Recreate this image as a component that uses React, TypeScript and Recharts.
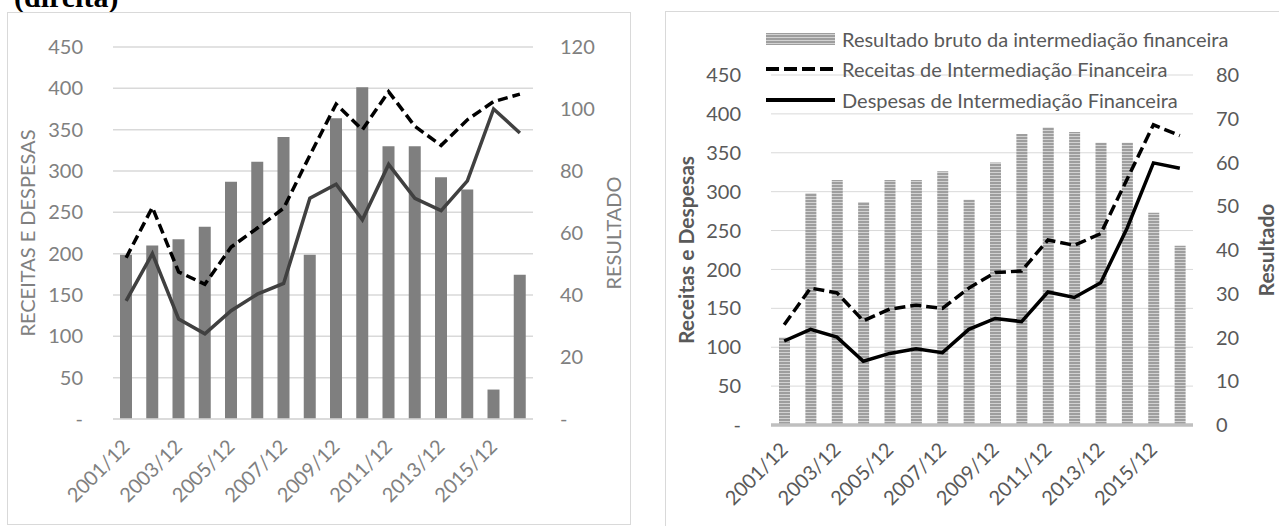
import React from 'react';
import {
  ComposedChart,
  Bar,
  Line,
  XAxis,
  YAxis,
  CartesianGrid,
  Legend
} from 'recharts';

const periods = [
  '2001/12', '2002/12', '2003/12', '2004/12', '2005/12', '2006/12', '2007/12', '2008/12',
  '2009/12', '2010/12', '2011/12', '2012/12', '2013/12', '2014/12', '2015/12', '2016/12'
];

// painel da esquerda
const resultadoEsq = [53, 56, 58, 62, 76.5, 83, 91, 53, 97, 107, 88, 88, 78, 74, 9.5, 46.5];
const receitasEsq = [195, 256, 178, 163, 208, 231, 255, 319, 381, 350, 396, 354, 331, 362, 384, 393];
const despesasEsq = [143, 200, 121, 103, 131, 151, 164, 267, 284, 241, 308, 267, 252, 288, 375, 346];

// painel da direita
const resultadoDir = [20, 53, 56, 51, 56, 56, 58, 51.5, 60, 66.5, 68, 67, 64.5, 64.5, 48.5, 41];
const receitasDir = [129, 176, 170, 134, 149, 154, 150, 176, 196, 198, 238, 231, 246, 316, 386, 372];
const despesasDir = [108, 123, 113, 82, 92, 98, 93, 123, 137, 133, 171, 164, 183, 253, 337, 330];

const valorTicks = [0, 50, 100, 150, 200, 250, 300, 350, 400, 450];
const resultadoTicksEsq = [0, 20, 40, 60, 80, 100, 120];
const resultadoTicksDir = [0, 10, 20, 30, 40, 50, 60, 70, 80];

const FONT = 'Lato, "Open Sans", sans-serif';
const TICK_SIZE = 20;

const leftRows = periods.map((period, i) => ({
  period,
  resultado: resultadoEsq[i],
  receitas: receitasEsq[i],
  despesas: despesasEsq[i]
}));

const rightRows = periods.map((period, i) => ({
  period,
  resultado: resultadoDir[i],
  receitas: receitasDir[i],
  despesas: despesasDir[i]
}));

const AngledTick = ({ x, y, payload, tone }: any) => (
  <text
    x={x}
    y={y}
    transform={`rotate(-45 ${x} ${y})`}
    textAnchor="end"
    dy="0.35em"
    fill={tone}
    fontSize={TICK_SIZE}
    fontFamily={FONT}
  >
    {payload.value}
  </text>
);

// título vertical dos eixos, posição fixa dentro do svg do gráfico
const AxisTitle = ({ px, py, caption, tone, heavy }: any) => (
  <text
    x={px}
    y={py}
    transform={`rotate(-90 ${px} ${py})`}
    textAnchor="middle"
    dominantBaseline="central"
    fill={tone}
    fontSize={heavy ? 21 : 20}
    fontWeight={heavy ? 700 : 400}
    fontFamily={FONT}
  >
    {caption}
  </text>
);

const dashFmt = (v: number) => (v === 0 ? '-' : String(v));

const StripeSwatch = () => (
  <svg width={69} height={14}>
    <defs>
      <pattern id="faixasLegenda" width="4" height="3" patternUnits="userSpaceOnUse">
        <rect width="4" height="3" fill="#9e9e9e" />
        <rect y="2" width="4" height="1" fill="#d2d2d2" />
      </pattern>
    </defs>
    <rect x={0} y={1} width={69} height={12} fill="url(#faixasLegenda)" />
  </svg>
);

const LineSwatch = ({ dashed }: { dashed?: boolean }) => (
  <svg width={69} height={14}>
    <line
      x1={0}
      y1={7}
      x2={69}
      y2={7}
      stroke="#000"
      strokeWidth={4}
      strokeDasharray={dashed ? '13 5' : undefined}
    />
  </svg>
);

const legendItems = [
  { key: 'resultado', label: 'Resultado bruto da intermediação financeira', icon: <StripeSwatch /> },
  { key: 'receitas', label: 'Receitas de Intermediação Financeira', icon: <LineSwatch dashed /> },
  { key: 'despesas', label: 'Despesas de Intermediação Financeira', icon: <LineSwatch /> }
];

const renderLegend = () => (
  <div style={{ position: 'relative', width: 500, height: 92 }}>
    {legendItems.map((item, i) => (
      <div
        key={item.key}
        style={{
          position: 'absolute',
          left: 0,
          top: i * 30.3,
          height: 30.3,
          display: 'flex',
          alignItems: 'center',
          whiteSpace: 'nowrap'
        }}
      >
        {item.icon}
        <span
          style={{
            marginLeft: 7,
            fontFamily: FONT,
            fontSize: 20,
            color: '#595959',
            lineHeight: '30px'
          }}
        >
          {item.label}
        </span>
      </div>
    ))}
  </div>
);

const LeftPanel = () => (
  <div style={{ position: 'absolute', left: 7, top: 12, width: 624, height: 513 }}>
    <ComposedChart
      width={624}
      height={513}
      data={leftRows}
      margin={{ top: 35, right: 0, bottom: 6, left: 0 }}
    >
      <CartesianGrid yAxisId="valor" vertical={false} stroke="#d9d9d9" strokeWidth={1.5} />
      <XAxis
        dataKey="period"
        height={100}
        interval={1}
        tickLine={false}
        tickSize={6}
        tickMargin={18}
        axisLine={{ stroke: '#d9d9d9', strokeWidth: 1.5 }}
        tick={<AngledTick tone="#808080" />}
      />
      <YAxis
        yAxisId="valor"
        width={106}
        domain={[0, 450]}
        ticks={valorTicks}
        tickFormatter={dashFmt}
        axisLine={false}
        tickLine={false}
        tickSize={6}
        tickMargin={24}
        tick={{ fill: '#808080', fontSize: TICK_SIZE, fontFamily: FONT }}
        label={<AxisTitle px={20} py={221} tone="#808080" caption="RECEITAS E DESPESAS" />}
      />
      <YAxis
        yAxisId="resultado"
        orientation="right"
        width={98}
        domain={[0, 120]}
        ticks={resultadoTicksEsq}
        tickFormatter={dashFmt}
        axisLine={false}
        tickLine={false}
        tickSize={6}
        tickMargin={21}
        tick={{ fill: '#808080', fontSize: TICK_SIZE, fontFamily: FONT, textAnchor: 'start' }}
        label={<AxisTitle px={606} py={221} tone="#808080" caption="RESULTADO" />}
      />
      <Bar yAxisId="resultado" dataKey="resultado" fill="#7f7f7f" barSize={12} isAnimationActive={false} />
      <Line
        yAxisId="valor"
        type="linear"
        dataKey="receitas"
        stroke="#000000"
        strokeWidth={3.5}
        strokeDasharray="10 5"
        dot={false}
        activeDot={false}
        isAnimationActive={false}
      />
      <Line
        yAxisId="valor"
        type="linear"
        dataKey="despesas"
        stroke="#404040"
        strokeWidth={3.5}
        dot={false}
        activeDot={false}
        isAnimationActive={false}
      />
    </ComposedChart>
    <div
      style={{
        position: 'absolute',
        inset: 0,
        border: '1.5px solid #d9d9d9',
        boxSizing: 'border-box',
        pointerEvents: 'none'
      }}
    />
  </div>
);

const RightPanel = () => (
  <div style={{ position: 'absolute', left: 665, top: 11, width: 620, height: 520 }}>
    <ComposedChart
      width={620}
      height={520}
      data={rightRows}
      margin={{ top: 64, right: 0, bottom: 6, left: 0 }}
    >
      <defs>
        <pattern id="faixasBarra" width="4" height="3" patternUnits="userSpaceOnUse">
          <rect width="4" height="3" fill="#9e9e9e" />
          <rect y="2" width="4" height="1" fill="#d2d2d2" />
        </pattern>
      </defs>
      <CartesianGrid yAxisId="valor" vertical={false} stroke="#d9d9d9" strokeWidth={1} />
      <XAxis
        dataKey="period"
        height={100}
        interval={1}
        tickLine={false}
        tickSize={6}
        tickMargin={15}
        axisLine={{ stroke: '#bfbfbf', strokeWidth: 3.5 }}
        tick={<AngledTick tone="#595959" />}
      />
      <YAxis
        yAxisId="valor"
        width={106}
        domain={[0, 450]}
        ticks={valorTicks}
        tickFormatter={dashFmt}
        axisLine={false}
        tickLine={false}
        tickSize={6}
        tickMargin={24}
        tick={{ fill: '#595959', fontSize: TICK_SIZE, fontFamily: FONT }}
        label={<AxisTitle px={20} py={239} tone="#595959" heavy caption="Receitas e Despesas" />}
      />
      <YAxis
        yAxisId="resultado"
        orientation="right"
        width={92}
        domain={[0, 80]}
        ticks={resultadoTicksDir}
        axisLine={false}
        tickLine={false}
        tickSize={6}
        tickMargin={17}
        tick={{ fill: '#595959', fontSize: TICK_SIZE, fontFamily: FONT, textAnchor: 'start' }}
        label={<AxisTitle px={600} py={239} tone="#595959" heavy caption="Resultado" />}
      />
      <Legend
        layout="vertical"
        align="center"
        verticalAlign="middle"
        wrapperStyle={{ left: 101, top: 13, width: 500, height: 92 }}
        content={renderLegend}
      />
      <Bar
        yAxisId="resultado"
        dataKey="resultado"
        fill="url(#faixasBarra)"
        barSize={11}
        isAnimationActive={false}
      />
      <Line
        yAxisId="valor"
        type="linear"
        dataKey="receitas"
        stroke="#000000"
        strokeWidth={3.5}
        strokeDasharray="11 5"
        dot={false}
        activeDot={false}
        isAnimationActive={false}
      />
      <Line
        yAxisId="valor"
        type="linear"
        dataKey="despesas"
        stroke="#000000"
        strokeWidth={3.5}
        dot={false}
        activeDot={false}
        isAnimationActive={false}
      />
    </ComposedChart>
    <div
      style={{
        position: 'absolute',
        inset: 0,
        border: '1.5px solid #d9d9d9',
        boxSizing: 'border-box',
        pointerEvents: 'none'
      }}
    />
  </div>
);

export default function App() {
  return (
    <div
      style={{
        position: 'absolute',
        left: 0,
        top: 0,
        width: 1279,
        height: 526,
        overflow: 'hidden',
        background: '#ffffff'
      }}
    >
      <svg width={200} height={20} style={{ position: 'absolute', left: 0, top: 0 }}>
        <text
          x={14}
          y={7}
          fontFamily='"Liberation Serif", serif'
          fontWeight={700}
          fontSize={30}
          fill="#000"
        >
          (direita)
        </text>
      </svg>
      <LeftPanel />
      <RightPanel />
    </div>
  );
}
